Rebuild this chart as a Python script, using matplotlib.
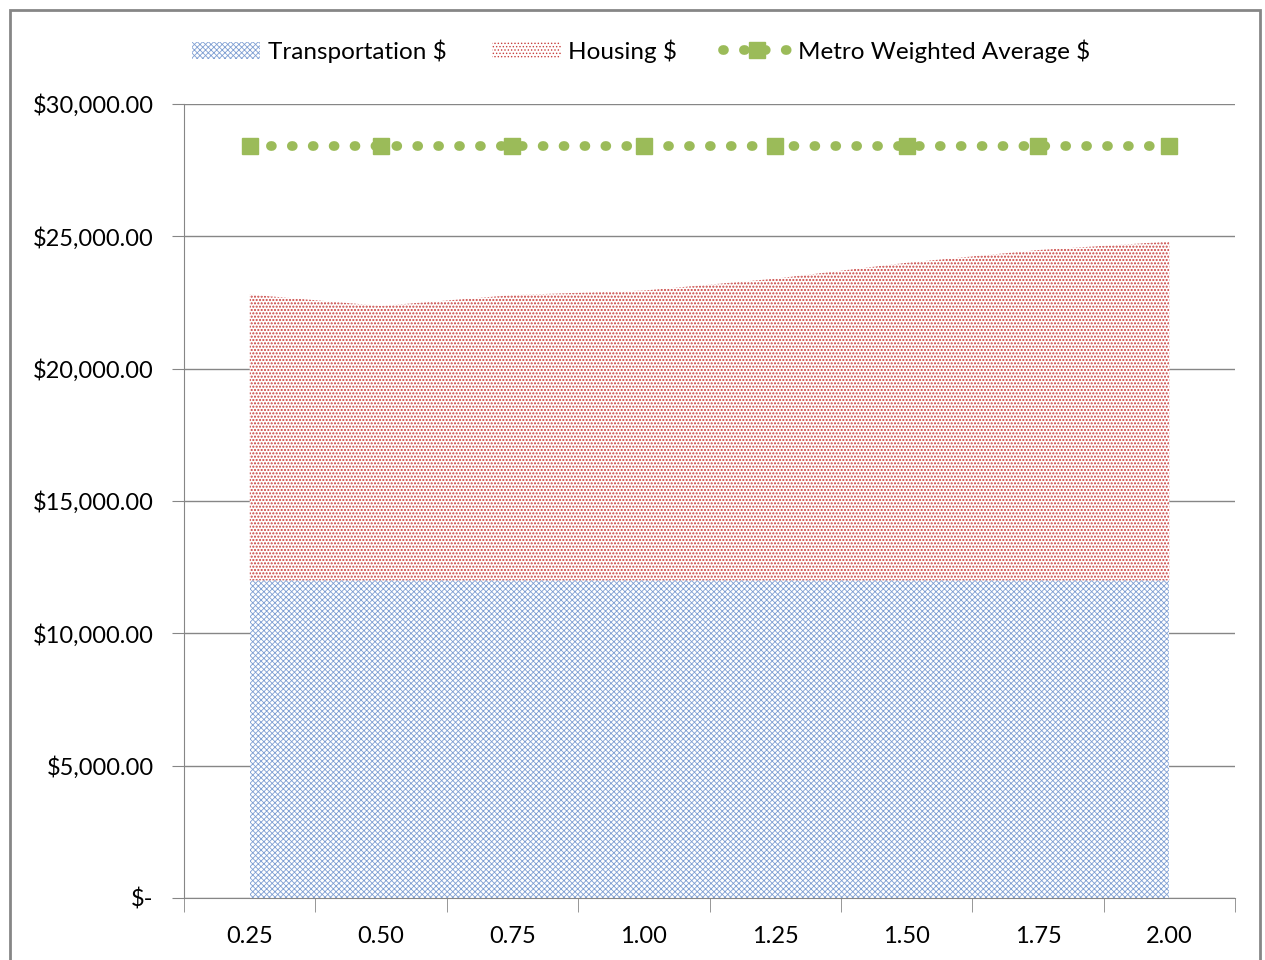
import matplotlib.pyplot as plt
import matplotlib.patches as mpatches
import numpy as np
from matplotlib.ticker import FuncFormatter

categories = ["0.25", "0.50", "0.75", "1.00", "1.25", "1.50", "1.75", "2.00"]
transportation = [12000, 12000, 12000, 12000, 12000, 12000, 12000, 12000]
housing = [10800, 10370, 10780, 10950, 11400, 12000, 12480, 12800]
metro_avg = [28400, 28400, 28400, 28400, 28400, 28400, 28400, 28400]

plt.rcParams['font.family'] = ['Lato', 'DejaVu Sans']
plt.rcParams['hatch.linewidth'] = 0.6

fig = plt.figure(figsize=(12.65, 9.6), dpi=100)
ax = fig.add_axes([0.1455, 0.0646, 0.8308, 0.8271])

x = np.arange(len(categories))
ax.stackplot(x, transportation, housing,
             colors=["white", "white"],
             labels=["Transportation $", "Housing $"])
polys = ax.collections
polys[0].set_hatch("xxxxxx")
polys[0].set_edgecolor("#7F9FD3")
polys[0].set_linewidth(0)
polys[1].set_hatch(".....")
polys[1].set_edgecolor("#C8403D")
polys[1].set_linewidth(0)
if hasattr(polys[1], "set_hatch_linewidth"):
    polys[1].set_hatch_linewidth(1.0)

ax.plot(x, metro_avg, color="#9BBB59", linestyle=(0, (0.1, 2.05)), linewidth=7,
        dash_capstyle="round", marker="s", markersize=12,
        label="Metro Weighted Average $")

ax.set_xlim(-0.5, len(categories) - 0.5)
ax.set_ylim(0, 30000)
ax.set_yticks(np.arange(0, 30001, 5000))
ax.yaxis.set_major_formatter(FuncFormatter(lambda v, p: "$-" if v == 0 else f"${v:,.2f}"))
ax.set_xticks(x)
ax.set_xticklabels(categories)
ax.set_xticks(np.arange(-0.5, len(categories), 1), minor=True)
ax.tick_params(axis="x", which="major", length=0, labelsize=17, pad=20)
ax.tick_params(axis="x", which="minor", length=10, color="#868686", direction="out")
ax.tick_params(axis="y", length=9, color="#868686", labelsize=17, pad=13)

ax.grid(axis="y", color="#868686", linewidth=1)
ax.set_axisbelow(True)
for s in ["top", "right"]:
    ax.spines[s].set_visible(False)
for s in ["left", "bottom"]:
    ax.spines[s].set_color("#868686")

handles, labels = ax.get_legend_handles_labels()
fig.legend(handles, labels, loc="upper center", bbox_to_anchor=(0.507, 0.982), ncol=3,
           frameon=False, fontsize=17.5, handlelength=2.8, handletextpad=0.3,
           columnspacing=1.9)

fig.patches.append(mpatches.Rectangle((0.008, -0.01), 0.988, 1.0, transform=fig.transFigure,
                                      fill=False, edgecolor="#868686", linewidth=2))

fig.savefig("out.png", dpi=100)
